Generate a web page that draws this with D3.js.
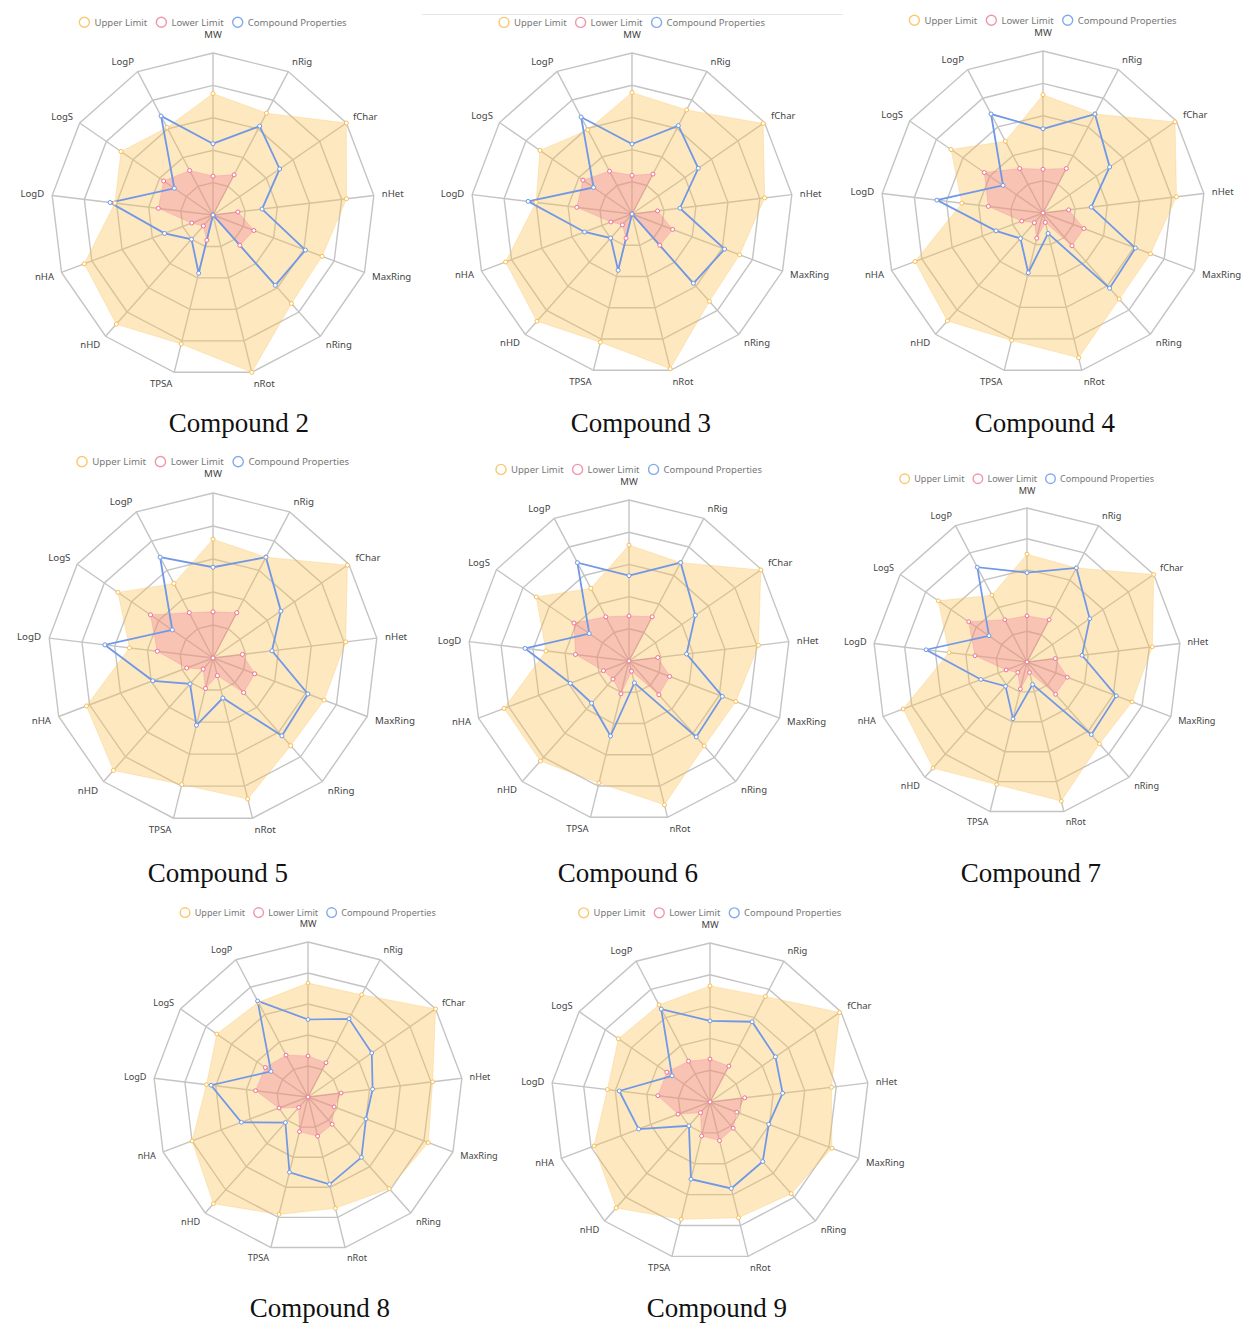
<!DOCTYPE html>
<html>
<head>
<meta charset="utf-8">
<script src="https://cdn.jsdelivr.net/npm/d3@7"></script>
<style>
  body { margin: 0; background: #fff; }
  svg { display: block; }
  .axis-name { font-family: "Noto Sans", sans-serif; fill: #444; }
  .legend-text { font-family: "Noto Sans", sans-serif; fill: #777; }
  .title { font-family: "Liberation Serif", "Times New Roman", serif; fill: #111; }
</style>
</head>
<body>
<div id="chart"></div>
<script>
// radar indicators, clockwise from the top
const indicators = ["MW", "nRig", "fChar", "nHet", "MaxRing", "nRing", "nRot",
                    "TPSA", "nHD", "nHA", "LogD", "LogS", "LogP"];

const compounds = ["Compound 2", "Compound 3", "Compound 4", "Compound 5",
                   "Compound 6", "Compound 7", "Compound 8", "Compound 9"];

const seriesNames = ["Upper Limit", "Lower Limit", "Compound Properties"];

// values are normalised to the radar radius (0..1), one row per compound
const upperLimit = [
  [0.75, 0.71, 1.0, 0.83, 0.72, 0.73, 1.0, 0.82, 0.90, 0.85, 0.61, 0.69, 0.61],
  [0.755, 0.73, 0.99, 0.83, 0.715, 0.725, 0.99, 0.82, 0.89, 0.84, 0.60, 0.695, 0.59],
  [0.73, 0.69, 0.99, 0.83, 0.71, 0.71, 0.92, 0.81, 0.89, 0.845, 0.505, 0.69, 0.50],
  [0.72, 0.69, 0.99, 0.81, 0.72, 0.71, 0.88, 0.79, 0.91, 0.82, 0.51, 0.70, 0.51],
  [0.72, 0.69, 0.995, 0.81, 0.71, 0.705, 0.92, 0.78, 0.83, 0.83, 0.52, 0.70, 0.51],
  [0.70, 0.69, 1.0, 0.82, 0.73, 0.71, 0.93, 0.82, 0.92, 0.86, 0.51, 0.70, 0.49],
  [0.735, 0.745, 1.0, 0.81, 0.83, 0.79, 0.74, 0.78, 0.92, 0.80, 0.66, 0.715, 0.69],
  [0.73, 0.75, 0.99, 0.77, 0.82, 0.77, 0.75, 0.76, 0.89, 0.78, 0.65, 0.70, 0.69]
];

const lowerLimit = [
  [0.24, 0.28, 0, 0.155, 0.27, 0.25, 0, 0.16, 0.09, 0.14, 0.34, 0.37, 0.31],
  [0.24, 0.28, 0, 0.16, 0.27, 0.26, 0, 0.155, 0.09, 0.14, 0.345, 0.37, 0.30],
  [0.27, 0.31, 0, 0.16, 0.27, 0.27, 0.06, 0.16, 0.08, 0.14, 0.34, 0.44, 0.31],
  [0.28, 0.31, 0, 0.18, 0.27, 0.28, 0.11, 0.19, 0.09, 0.17, 0.34, 0.46, 0.31],
  [0.28, 0.31, 0, 0.18, 0.27, 0.28, 0.065, 0.21, 0.15, 0.17, 0.335, 0.415, 0.31],
  [0.30, 0.31, 0, 0.185, 0.28, 0.28, 0.07, 0.18, 0.09, 0.145, 0.34, 0.46, 0.31],
  [0.265, 0.25, 0, 0.215, 0.18, 0.235, 0.26, 0.23, 0.09, 0.20, 0.34, 0.335, 0.305],
  [0.27, 0.255, 0, 0.22, 0.18, 0.22, 0.25, 0.22, 0.09, 0.215, 0.33, 0.33, 0.29]
];

const compoundProps = [
  [0.44, 0.62, 0.50, 0.305, 0.61, 0.58, 0, 0.37, 0.20, 0.32, 0.64, 0.29, 0.69],
  [0.435, 0.62, 0.50, 0.30, 0.615, 0.575, 0, 0.36, 0.20, 0.315, 0.65, 0.29, 0.68],
  [0.52, 0.69, 0.50, 0.30, 0.61, 0.62, 0.13, 0.38, 0.21, 0.31, 0.66, 0.30, 0.69],
  [0.55, 0.69, 0.50, 0.36, 0.615, 0.63, 0.25, 0.42, 0.21, 0.39, 0.66, 0.30, 0.69],
  [0.53, 0.69, 0.50, 0.36, 0.62, 0.63, 0.14, 0.48, 0.35, 0.39, 0.65, 0.30, 0.69],
  [0.58, 0.69, 0.495, 0.36, 0.62, 0.63, 0.15, 0.38, 0.21, 0.32, 0.66, 0.30, 0.695],
  [0.50, 0.57, 0.50, 0.42, 0.40, 0.52, 0.58, 0.50, 0.22, 0.46, 0.63, 0.29, 0.70],
  [0.51, 0.57, 0.50, 0.46, 0.395, 0.50, 0.56, 0.50, 0.20, 0.48, 0.575, 0.29, 0.66]
];

// where each pasted radar sits on the page
let panels = [
  {cx: 213, cy: 215, r: 162, tx: 239, ty: 432},
  {cx: 632, cy: 214, r: 161, tx: 641, ty: 432},
  {cx: 1043, cy: 213, r: 162, tx: 1045, ty: 432},
  {cx: 213, cy: 658, r: 165, tx: 218, ty: 882},
  {cx: 629, cy: 661, r: 161, tx: 628, ty: 882},
  {cx: 1027, cy: 662, r: 154, tx: 1031, ty: 882},
  {cx: 308, cy: 1097, r: 155, tx: 320, ty: 1317},
  {cx: 710, cy: 1102, r: 159, tx: 717, ty: 1317}
];

let width = 1242, height = 1324
let colors = {
  upper: "rgb(250,190,80)",
  lower: "rgb(240,110,150)",
  props: "rgb(112,152,230)"
}
let legendColors = ["rgb(250,200,110)", "rgb(240,150,170)", "rgb(130,170,235)"]

let svg = d3.select("#chart").append("svg")
  .attr("width", width)
  .attr("height", height)

// faint crop edge above the second panel
svg.append("line")
  .attr("x1", 422).attr("x2", 843)
  .attr("y1", 14.5).attr("y2", 14.5)
  .attr("stroke", "#e6e6e6")

let angle = d3.scaleLinear()
  .domain([0, indicators.length])
  .range([0, 2 * Math.PI])

compounds.forEach(function(name, i) {
  drawRadar(panels[i], name, upperLimit[i], lowerLimit[i], compoundProps[i])
})

function drawRadar(p, name, upper, lower, props) {
  let radius = d3.scaleLinear().domain([0, 1]).range([0, p.r])
  let k = p.r / 161
  let fs = 9.5 * k

  let g = svg.append("g").attr("transform", `translate(${p.cx},${p.cy})`)

  let pt = (v, j) => [Math.sin(angle(j)) * radius(v), -Math.cos(angle(j)) * radius(v)]

  let line = d3.lineRadial()
    .angle((d, j) => angle(j))
    .radius(d => radius(d))
    .curve(d3.curveLinearClosed)

  // split lines (13-gons) and axis lines
  let grid = g.append("g")
  d3.range(1, 6).forEach(function(s) {
    grid.append("path")
      .attr("d", line(indicators.map(() => s / 5)))
      .attr("fill", "none")
      .attr("stroke", "#c4c4c4")
      .attr("stroke-width", 1.4)
  })
  grid.selectAll("line")
    .data(indicators)
    .join("line")
    .attr("x1", 0).attr("y1", 0)
    .attr("x2", (d, j) => pt(1, j)[0])
    .attr("y2", (d, j) => pt(1, j)[1])
    .attr("stroke", "#c4c4c4")
    .attr("stroke-width", 1.4)

  // areas
  g.append("path")
    .attr("d", line(upper))
    .attr("fill", colors.upper)
    .attr("fill-opacity", 0.36)
    .attr("stroke", colors.upper)
    .attr("stroke-opacity", 0.35)
    .attr("stroke-width", 0.8)
  g.append("path")
    .attr("d", line(lower))
    .attr("fill", colors.lower)
    .attr("fill-opacity", 0.3)
    .attr("stroke", colors.lower)
    .attr("stroke-opacity", 0.3)
    .attr("stroke-width", 0.8)
  g.append("path")
    .attr("d", line(props))
    .attr("fill", "none")
    .attr("stroke", colors.props)
    .attr("stroke-width", 1.8 * k)

  // hollow symbols
  let symbols = [[upper, colors.upper], [lower, colors.lower], [props, colors.props]]
  symbols.forEach(function(s) {
    g.append("g").selectAll("circle")
      .data(s[0])
      .join("circle")
      .attr("cx", (d, j) => pt(d, j)[0])
      .attr("cy", (d, j) => pt(d, j)[1])
      .attr("r", 2 * k)
      .attr("fill", "#fff")
      .attr("stroke", s[1])
      .attr("stroke-width", 1)
  })

  // indicator names
  let gap = 8 * k
  g.selectAll("text.axis-name")
    .data(indicators)
    .join("text")
    .attr("class", "axis-name")
    .attr("x", (d, j) => Math.sin(angle(j)) * (p.r + gap))
    .attr("y", (d, j) => -Math.cos(angle(j)) * (p.r + gap + 3.5 * k) - (j == 0 ? 7 * k : 0))
    .attr("dy", "0.35em")
    .attr("text-anchor", (d, j) => {
      let s = Math.sin(angle(j))
      return Math.abs(s) < 1e-6 ? "middle" : (s > 0 ? "start" : "end")
    })
    .style("font-size", fs + "px")
    .text(d => d)

  // legend, centred on the radar
  let legend = g.append("g")
  let x = 0
  seriesNames.forEach(function(s, j) {
    let item = legend.append("g").attr("transform", `translate(${x},0)`)
    item.append("circle")
      .attr("cx", 5 * k).attr("cy", 0).attr("r", 5 * k)
      .attr("fill", "none")
      .attr("stroke", legendColors[j])
      .attr("stroke-width", 1.4)
    let t = item.append("text")
      .attr("class", "legend-text")
      .attr("x", 15 * k)
      .attr("dy", "0.35em")
      .style("font-size", 9.5 * k + "px")
      .text(s)
    x += 15 * k + t.node().getComputedTextLength() + 9 * k
  })
  let lw = x - 9 * k
  legend.attr("transform", `translate(${-lw / 2},${-p.r * 1.19})`)

  // caption under the panel
  svg.append("text")
    .attr("class", "title")
    .attr("x", p.tx)
    .attr("y", p.ty)
    .attr("text-anchor", "middle")
    .style("font-size", "27px")
    .text(name)
}
</script>
</body>
</html>
